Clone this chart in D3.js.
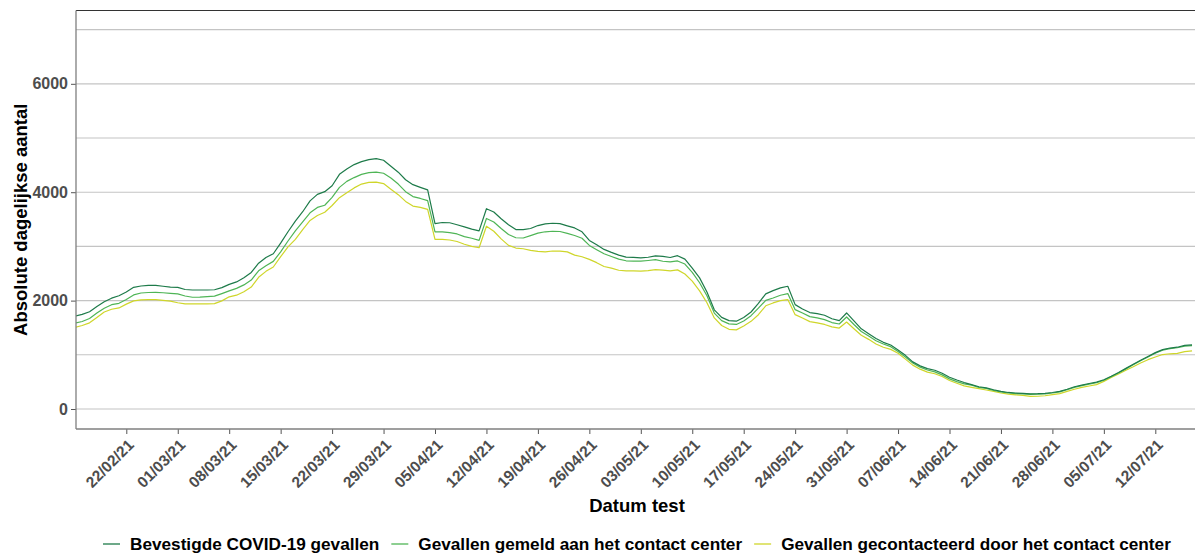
<!DOCTYPE html>
<html>
<head>
<meta charset="utf-8">
<script src="https://cdn.jsdelivr.net/npm/d3@7"></script>
<style>
  html, body { margin: 0; padding: 0; background: #ffffff; }
  svg { display: block; font-family: "Liberation Sans", Arial, sans-serif; }
</style>
</head>
<body>
<svg id="chart" width="1195" height="554"></svg>
<script>
// ---------------- DATA ----------------
const startDate = "2021-02-15"; // first day of the daily series
const seriesNames = [
  "Bevestigde COVID-19 gevallen",
  "Gevallen gemeld aan het contact center",
  "Gevallen gecontacteerd door het contact center"
];
const bevestigd = [
  1715, 1745, 1795, 1890, 1980, 2045, 2090, 2160, 2245, 2270,
  2280, 2282, 2265, 2250, 2245, 2205, 2196, 2196, 2196, 2200,
  2240, 2300, 2345, 2420, 2520, 2690, 2797, 2865, 3060, 3270,
  3466, 3640, 3840, 3960, 4010, 4120, 4330, 4430, 4510, 4565,
  4600, 4620, 4590, 4478, 4370, 4230, 4140, 4090, 4043, 3422,
  3441, 3437, 3400, 3360, 3320, 3286, 3696, 3635, 3510, 3400,
  3311, 3311, 3330, 3385, 3415, 3427, 3420, 3380, 3341, 3270,
  3110, 3030, 2945, 2890, 2840, 2802, 2799, 2790, 2800, 2825,
  2815, 2795, 2829, 2765, 2600, 2420, 2160, 1830, 1690, 1630,
  1620, 1690, 1790, 1950, 2125, 2185, 2235, 2265, 1926, 1846,
  1780, 1760, 1730, 1665, 1630, 1772, 1625, 1480, 1390, 1300,
  1230, 1180, 1090, 990, 870, 796, 745, 715, 660, 586,
  535, 488, 450, 410, 390, 355, 325, 305, 295, 288,
  280, 282, 290, 305, 325, 365, 410, 440, 470, 495,
  540, 605, 675, 750, 825, 900, 970, 1040, 1095, 1125,
  1140, 1175, 1185
];
const gemeld = [
  1585, 1615, 1670, 1770, 1860, 1925, 1950, 2020, 2105, 2140,
  2150, 2153, 2145, 2135, 2123, 2085, 2062, 2065, 2072, 2082,
  2130, 2180, 2225, 2290, 2380, 2550, 2644, 2724, 2900, 3100,
  3286, 3453, 3620, 3720, 3760, 3905, 4090, 4200, 4270, 4330,
  4360, 4372, 4350, 4261, 4150, 4010, 3920, 3885, 3845, 3267,
  3267, 3255, 3230, 3180, 3150, 3112, 3516, 3450, 3330, 3220,
  3160, 3155, 3200, 3245, 3270, 3280, 3275, 3240, 3201, 3150,
  3018, 2940, 2865, 2815, 2765, 2735, 2730, 2728, 2740, 2755,
  2726, 2713, 2732, 2675, 2520, 2330, 2090, 1770, 1630, 1570,
  1560, 1625, 1722, 1860, 2005, 2049, 2099, 2130, 1833, 1772,
  1705, 1680, 1650, 1595, 1568, 1698, 1560, 1430, 1345, 1260,
  1200, 1150, 1060, 960, 850, 772, 720, 685, 630, 556,
  505, 463, 440, 400, 380, 345, 315, 295, 285, 278,
  270, 272, 280, 295, 315, 355, 400, 430, 460, 485,
  530, 595, 665, 740, 815, 890, 960, 1030, 1085, 1115,
  1130, 1160, 1170
];
const gecontacteerd = [
  1505, 1540, 1590, 1690, 1790, 1840, 1865, 1935, 1995, 2015,
  2018, 2018, 2005, 1990, 1960, 1940, 1939, 1939, 1939, 1945,
  1995, 2070, 2100, 2165, 2250, 2430, 2540, 2620, 2810, 2990,
  3130, 3311, 3480, 3570, 3630, 3755, 3900, 3990, 4080, 4150,
  4182, 4186, 4160, 4056, 3955, 3830, 3745, 3720, 3683, 3130,
  3130, 3118, 3090, 3040, 3000, 2975, 3373, 3280, 3140, 3020,
  2970, 2957, 2927, 2910, 2900, 2915, 2912, 2900, 2840, 2810,
  2760, 2700, 2630, 2600, 2560, 2549, 2549, 2545, 2555, 2570,
  2561, 2549, 2567, 2490, 2360, 2180, 1960, 1680, 1540, 1470,
  1460, 1530, 1617, 1740, 1905, 1957, 2000, 2019, 1741, 1679,
  1612, 1590, 1560, 1515, 1494, 1605, 1480, 1360, 1285, 1200,
  1140, 1100, 1030, 920, 810, 735, 680, 650, 600, 525,
  475, 426, 400, 375, 350, 325, 295, 275, 262, 250,
  232, 235, 245, 265, 285, 325, 365, 400, 425, 450,
  510, 580, 645, 715, 780, 850, 910, 960, 1005, 1019,
  1025, 1060, 1074
];
const xTickLabels = [
  "22/02/21", "01/03/21", "08/03/21", "15/03/21", "22/03/21", "29/03/21",
  "05/04/21", "12/04/21", "19/04/21", "26/04/21", "03/05/21", "10/05/21",
  "17/05/21", "24/05/21", "31/05/21", "07/06/21", "14/06/21", "21/06/21",
  "28/06/21", "05/07/21", "12/07/21"
];
const yTickLabels = [0, 2000, 4000, 6000];
const yGridValues = [0, 1000, 2000, 3000, 4000, 5000, 6000, 7000];
const colors = ["#1e7b4a", "#4fb556", "#cfd62a"];

// ---------------- LAYOUT ----------------
const svg = d3.select("#chart");
const panel = { left: 76, right: 1197, top: 10.5, bottom: 429 };

const parseTick = d3.utcParse("%d/%m/%y");
const start = d3.utcParse("%Y-%m-%d")(startDate);
const dates = bevestigd.map((_, i) => d3.utcDay.offset(start, i));

const x = d3.scaleUtc()
  .domain([parseTick("22/02/21"), parseTick("12/07/21")])
  .range([126.3, 1155.3]);
const y = d3.scaleLinear()
  .domain([-369, 7353])
  .range([panel.bottom, panel.top]);

// clip
svg.append("defs").append("clipPath").attr("id", "clip")
  .append("rect")
  .attr("x", panel.left).attr("y", panel.top)
  .attr("width", panel.right - panel.left)
  .attr("height", panel.bottom - panel.top);

// gridlines
svg.append("g").selectAll("line").data(yGridValues).join("line")
  .attr("x1", panel.left).attr("x2", panel.right)
  .attr("y1", d => y(d)).attr("y2", d => y(d))
  .attr("stroke", "#c4c4c4").attr("stroke-width", 1.1);

// lines
const series = [bevestigd, gemeld, gecontacteerd];
const line = d3.line()
  .x((d, i) => x(dates[i]))
  .y(d => y(d));
const gLines = svg.append("g").attr("clip-path", "url(#clip)");
[2, 1, 0].forEach(k => {
  gLines.append("path")
    .datum(series[k])
    .attr("d", line)
    .attr("fill", "none")
    .attr("stroke", colors[k])
    .attr("stroke-width", 1.2)
    .attr("stroke-linejoin", "round");
});

// panel border (top)
svg.append("line")
  .attr("x1", panel.left).attr("x2", panel.right)
  .attr("y1", panel.top).attr("y2", panel.top)
  .attr("stroke", "#333333").attr("stroke-width", 1);

// y axis
const yAxis = d3.axisLeft(y)
  .tickValues(yTickLabels)
  .tickSize(5)
  .tickPadding(3)
  .tickFormat(d3.format("d"));
const gy = svg.append("g")
  .attr("transform", `translate(${panel.left},0)`)
  .call(yAxis);
gy.select(".domain").remove();
gy.selectAll(".tick line").attr("stroke", "#555").attr("stroke-width", 1);
gy.selectAll(".tick text")
  .attr("font-size", 16).attr("font-weight", "bold")
  .attr("fill", "#4d4d4d")
  .attr("font-family", "Liberation Sans, Arial, sans-serif");
svg.append("line")
  .attr("x1", panel.left).attr("x2", panel.left)
  .attr("y1", panel.top).attr("y2", panel.bottom)
  .attr("stroke", "#7f7f7f").attr("stroke-width", 1.3);

// x axis
const xAxis = d3.axisBottom(x)
  .tickValues(xTickLabels.map(parseTick))
  .tickSize(5)
  .tickFormat(d3.utcFormat("%d/%m/%y"));
const gx = svg.append("g")
  .attr("transform", `translate(0,${panel.bottom})`)
  .call(xAxis);
gx.select(".domain").remove();
gx.selectAll(".tick line").attr("stroke", "#555").attr("stroke-width", 1);
gx.selectAll(".tick text")
  .attr("font-size", 15.5).attr("font-weight", "bold")
  .attr("fill", "#4d4d4d")
  .attr("font-family", "Liberation Sans, Arial, sans-serif")
  .attr("text-anchor", "end")
  .attr("y", 0).attr("dy", 0)
  .attr("transform", "translate(8,17) rotate(-45)");
svg.append("line")
  .attr("x1", panel.left).attr("x2", panel.right)
  .attr("y1", panel.bottom).attr("y2", panel.bottom)
  .attr("stroke", "#7f7f7f").attr("stroke-width", 1.3);

// axis titles
svg.append("text")
  .attr("x", 637).attr("y", 512)
  .attr("text-anchor", "middle")
  .attr("font-size", 18.5).attr("font-weight", "bold").attr("fill", "#000")
  .text("Datum test");
svg.append("text")
  .attr("transform", `translate(27,${(panel.top + panel.bottom) / 2}) rotate(-90)`)
  .attr("text-anchor", "middle")
  .attr("font-size", 18.5).attr("font-weight", "bold").attr("fill", "#000")
  .text("Absolute dagelijkse aantal");

// legend
const legend = svg.append("g");
let lx = 103;
const ly = 544;
seriesNames.forEach((name, k) => {
  legend.append("line")
    .attr("x1", lx).attr("x2", lx + 17)
    .attr("y1", ly).attr("y2", ly)
    .attr("stroke", colors[k]).attr("stroke-width", 1.3);
  const t = legend.append("text")
    .attr("x", lx + 27).attr("y", ly + 6)
    .attr("font-size", 17.2).attr("font-weight", "bold").attr("fill", "#000")
    .text(name);
  lx = lx + 27 + t.node().getComputedTextLength() + 12;
});
</script>
</body>
</html>
